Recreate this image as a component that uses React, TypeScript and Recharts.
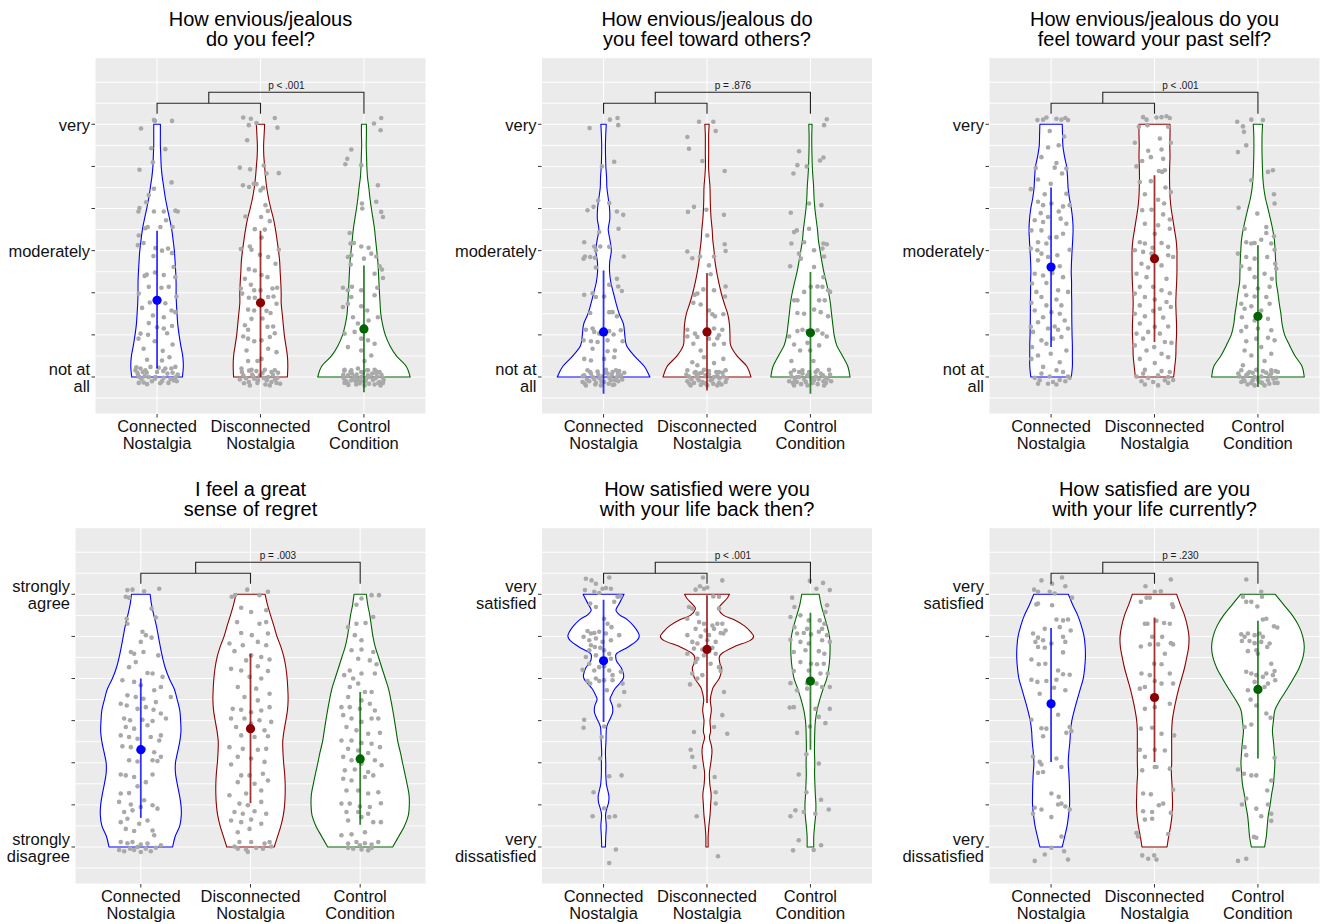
import React from 'react';
import { ComposedChart, Scatter, XAxis, YAxis, CartesianGrid } from 'recharts';

type Pt = [number, number];

const FONT = '"Liberation Sans", Arial, Helvetica, sans-serif';
const GROUP_COLORS = ['#0000FF', '#8B0000', '#006400'];
const POINT_COLOR = '#A9A9A9';

// ---------- categories / ticks ----------
const categoryPositions = [1, 2, 3];
const categoryLabels = [['Connected', 'Nostalgia'], ['Disconnected', 'Nostalgia'], ['Control', 'Condition']];
const gridValues = [0.5, 1, 1.5, 2, 2.5, 3, 3.5, 4, 4.5, 5, 5.5, 6, 6.5, 7, 7.5, 8];
const scaleTicks = [1, 2, 3, 4, 5, 6, 7];
const violinLevels = [7, 6.75, 6.5, 6.25, 6, 5.75, 5.5, 5.25, 5, 4.75, 4.5, 4.25, 4, 3.75, 3.5, 3.25, 3, 2.75, 2.5, 2.25, 2, 1.75, 1.5, 1.25, 1];

const envyLabelValues = [1, 4, 7];
const envyLabelText = [['not at', 'all'], ['moderately'], ['very']];
const agreeLabelValues = [1, 7];
const agreeLabelText = [['strongly', 'disagree'], ['strongly', 'agree']];
const satisfiedLabelValues = [1, 7];
const satisfiedLabelText = [['very', 'dissatisfied'], ['very', 'satisfied']];

const panelTitles = [
  ['How envious/jealous', 'do you feel?'],
  ['How envious/jealous do', 'you feel toward others?'],
  ['How envious/jealous do you', 'feel toward your past self?'],
  ['I feel a great', 'sense of regret'],
  ['How satisfied were you', 'with your life back then?'],
  ['How satisfied are you', 'with your life currently?'],
];
const pLabels = ['p < .001', 'p = .876', 'p < .001', 'p = .003', 'p < .001', 'p = .230'];

// bracket levels (data units)
const bracketEnd = 7.25;
const bracketLower = 7.5;
const bracketUpper = 7.76;

// ---------- means and mean ± SD ----------
const p1Means = [2.82, 2.76, 2.14];
const p1Low = [1.2, 1.0, 0.64];
const p1High = [4.47, 4.47, 3.65];
const p2Means = [2.07, 2.07, 2.05];
const p2Low = [0.6, 0.68, 0.6];
const p2High = [3.53, 3.47, 3.49];
const p3Means = [3.61, 3.81, 2.44];
const p3Low = [1.71, 1.83, 0.76];
const p3High = [5.5, 5.79, 4.13];
const p4Means = [3.31, 3.81, 3.09];
const p4Low = [1.69, 2.04, 1.53];
const p4High = [5.0, 5.59, 4.68];
const p5Means = [5.42, 5.69, 4.94];
const p5Low = [3.97, 4.42, 3.31];
const p5High = [6.87, 6.98, 6.56];
const p6Means = [4.4, 4.55, 4.74];
const p6Low = [3.02, 3.02, 3.1];
const p6High = [6.2, 6.45, 6.37];

// ---------- violin half-widths (x units) at violinLevels ----------
const v1Connected = [0.032,0.032,0.032,0.036,0.04,0.05,0.065,0.08,0.1,0.122,0.142,0.155,0.167,0.174,0.18,0.184,0.184,0.187,0.193,0.2,0.213,0.229,0.248,0.254,0.245];
const v1Disconnected = [0.04,0.035,0.03,0.032,0.04,0.048,0.06,0.077,0.1,0.126,0.145,0.16,0.174,0.185,0.19,0.196,0.2,0.2,0.21,0.22,0.23,0.245,0.26,0.264,0.26];
const v1Control = [0.024,0.024,0.022,0.025,0.028,0.034,0.047,0.058,0.072,0.088,0.103,0.113,0.124,0.134,0.14,0.145,0.15,0.156,0.163,0.18,0.206,0.25,0.314,0.41,0.447];
const v2Connected = [0.026,0.021,0.018,0.019,0.022,0.029,0.032,0.045,0.058,0.06,0.045,0.062,0.075,0.06,0.058,0.07,0.095,0.121,0.151,0.193,0.205,0.222,0.298,0.395,0.448];
const v2Disconnected = [0.021,0.016,0.016,0.016,0.015,0.021,0.029,0.031,0.034,0.04,0.05,0.056,0.068,0.077,0.093,0.113,0.137,0.166,0.2,0.217,0.222,0.229,0.29,0.386,0.425];
const v2Control = [0.016,0.013,0.013,0.015,0.018,0.024,0.031,0.035,0.043,0.055,0.068,0.077,0.093,0.11,0.129,0.153,0.176,0.193,0.204,0.216,0.229,0.254,0.31,0.362,0.383];
const v3Connected = [0.108,0.111,0.114,0.129,0.15,0.159,0.164,0.177,0.196,0.208,0.213,0.209,0.203,0.198,0.195,0.198,0.198,0.2,0.2,0.201,0.203,0.206,0.206,0.206,0.196];
const v3Disconnected = [0.15,0.15,0.148,0.15,0.147,0.145,0.147,0.151,0.161,0.177,0.193,0.209,0.217,0.217,0.217,0.214,0.209,0.206,0.209,0.213,0.213,0.208,0.206,0.196,0.185];
const v3Control = [0.045,0.04,0.039,0.04,0.043,0.047,0.056,0.072,0.097,0.121,0.143,0.159,0.166,0.171,0.174,0.177,0.193,0.206,0.222,0.234,0.258,0.306,0.359,0.427,0.448];
const v4Connected = [0.085,0.098,0.119,0.142,0.16,0.178,0.198,0.223,0.259,0.305,0.332,0.355,0.363,0.366,0.355,0.335,0.316,0.316,0.332,0.351,0.366,0.369,0.355,0.313,0.29];
const v4Disconnected = [0.133,0.155,0.183,0.213,0.241,0.277,0.305,0.323,0.334,0.34,0.343,0.337,0.322,0.305,0.294,0.296,0.302,0.311,0.316,0.316,0.311,0.299,0.277,0.247,0.216];
const v4Control = [0.056,0.069,0.088,0.102,0.116,0.137,0.168,0.198,0.229,0.259,0.279,0.297,0.313,0.328,0.343,0.366,0.386,0.407,0.427,0.445,0.448,0.439,0.404,0.351,0.296];
const v5Connected: Pt[] = [[7,0.198],[6.9,0.177],[6.75,0.145],[6.62,0.12],[6.5,0.161],[6.4,0.229],[6.25,0.29],[6.1,0.333],[6,0.345],[5.9,0.322],[5.75,0.237],[5.6,0.129],[5.5,0.118],[5.4,0.129],[5.25,0.172],[5.1,0.193],[5,0.19],[4.9,0.161],[4.75,0.108],[4.6,0.076],[4.5,0.063],[4.35,0.085],[4.2,0.088],[4.05,0.065],[3.85,0.03],[3.5,0.023],[3.25,0.018],[3,0.021],[2.75,0.021],[2.5,0.027],[2.35,0.04],[2.2,0.052],[2.05,0.048],[1.9,0.03],[1.75,0.019],[1.5,0.026],[1.25,0.021],[1,0.018]];
const v5Disconnected: Pt[] = [[7,0.217],[6.9,0.193],[6.75,0.135],[6.65,0.113],[6.5,0.161],[6.4,0.258],[6.25,0.362],[6.1,0.424],[6,0.451],[5.9,0.415],[5.75,0.258],[5.6,0.145],[5.5,0.118],[5.35,0.126],[5.25,0.142],[5.1,0.132],[5,0.118],[4.85,0.076],[4.75,0.053],[4.5,0.032],[4.25,0.042],[4,0.029],[3.75,0.035],[3.6,0.023],[3.4,0.043],[3.25,0.048],[3,0.037],[2.75,0.023],[2.5,0.027],[2.25,0.04],[2,0.035],[1.75,0.029],[1.5,0.018],[1.25,0.011],[1,0.011]];
const v5Control = [0.084,0.103,0.132,0.161,0.184,0.19,0.187,0.177,0.158,0.122,0.09,0.064,0.048,0.042,0.04,0.039,0.042,0.04,0.043,0.047,0.053,0.05,0.04,0.032,0.032];
const v6Connected = [0.167,0.209,0.258,0.293,0.319,0.33,0.332,0.325,0.311,0.282,0.253,0.225,0.201,0.188,0.182,0.172,0.166,0.172,0.177,0.179,0.179,0.169,0.155,0.132,0.108];
const v6Disconnected = [0.214,0.25,0.29,0.317,0.333,0.33,0.312,0.29,0.262,0.233,0.209,0.188,0.172,0.166,0.166,0.166,0.166,0.163,0.169,0.172,0.174,0.169,0.156,0.137,0.121];
const v6Control = [0.167,0.25,0.333,0.395,0.433,0.448,0.435,0.398,0.343,0.282,0.217,0.164,0.15,0.14,0.15,0.158,0.164,0.158,0.15,0.132,0.118,0.1,0.09,0.081,0.064];

// ---------- jittered responses [x offset from category, value] ----------
const p1Connected: Pt[] = [[-0.03,7.1],[-0.02,7.08],[0.145,7.08],[-0.155,6.9],[-0.055,6.43],[0.08,6.41],[-0.17,5.92],[-0.04,6.1],[0.14,5.62],[-0.03,5.47],[-0.08,5.32],[-0.105,5.15],[-0.17,5.01],[-0.18,4.93],[-0.03,4.93],[0.065,4.93],[0.177,4.95],[0.2,4.93],[0.087,4.72],[-0.09,4.56],[-0.113,4.53],[0.032,4.56],[0.15,4.56],[-0.177,4.36],[-0.13,4.18],[-0.185,4.13],[-0.016,4.06],[0.048,4.0],[0.106,4.05],[-0.035,3.87],[0.145,3.94],[0.16,3.61],[-0.1,3.43],[-0.12,3.4],[-0.02,3.48],[0.065,3.42],[0.177,3.37],[-0.08,3.14],[0.042,3.12],[0.113,3.14],[-0.177,2.98],[0.187,2.91],[-0.07,2.77],[0.08,2.75],[-0.145,2.64],[0.14,2.58],[0.177,2.54],[-0.04,2.46],[0.065,2.42],[-0.08,2.28],[0.145,2.21],[0,2.18],[-0.16,2.03],[-0.087,2.0],[0.065,2.15],[0.097,2.04],[-0.18,1.91],[-0.023,1.85],[0.15,1.77],[-0.13,1.67],[0.055,1.62],[0.12,1.47],[-0.097,1.41],[0.048,1.39],[-0.2,1.23],[-0.16,1.2],[-0.113,1.16],[-0.064,1.24],[0.016,1.22],[0.08,1.2],[0.138,1.2],[0.177,1.24],[-0.183,1.05],[-0.12,1.02],[-0.08,1.0],[-0.016,1.0],[0.064,0.98],[0.13,0.95],[0.177,0.99],[-0.177,0.86],[-0.097,0.83],[0.048,0.9],[0.16,0.92],[-0.21,1.16],[-0.138,1.12],[-0.19,1.1],[-0.15,0.95],[-0.1,1.1],[-0.05,0.9],[0,1.12],[0.03,0.85],[0.1,1.08],[0.15,1.1],[0.19,0.9],[-0.17,1.0],[0.11,0.86],[-0.02,0.96],[0.06,1.14],[-0.13,0.87],[0.2,1.06]];
const p1Disconnected: Pt[] = [[-0.167,7.16],[-0.093,7.13],[0.138,7.15],[-0.113,6.98],[-0.039,7.03],[0.164,6.92],[-0.129,6.62],[-0.2,5.97],[-0.1,5.93],[0.032,6.02],[0.058,5.83],[0.177,5.84],[-0.17,5.55],[-0.11,5.51],[-0.064,5.59],[-0.039,5.58],[0,5.43],[0.026,5.49],[0.048,5.08],[0.071,4.94],[-0.145,4.81],[0.006,4.8],[0.09,4.7],[-0.055,4.51],[0.042,4.5],[0.01,4.31],[-0.19,4.04],[-0.103,4.1],[-0.087,4.02],[0.177,4.02],[-0.006,3.9],[0.074,3.85],[0.145,3.69],[-0.113,3.56],[-0.055,3.53],[0.01,3.42],[0.068,3.37],[-0.151,3.33],[-0.19,3.1],[-0.093,3.19],[-0.061,3.06],[0,3.06],[0.116,3.1],[0.161,3.12],[-0.177,2.98],[-0.113,2.88],[-0.055,2.88],[0.074,2.9],[0.126,2.91],[0.155,2.74],[-0.12,2.6],[-0.061,2.58],[0.058,2.57],[0.097,2.52],[-0.087,2.38],[0.019,2.39],[-0.151,2.23],[-0.12,2.12],[0.068,2.19],[0.122,2.2],[0.138,2.04],[-0.167,1.96],[-0.12,1.91],[-0.061,1.85],[0.01,1.87],[0.09,1.95],[-0.135,1.63],[0.074,1.67],[0.155,1.59],[0.01,1.43],[-0.12,1.38],[-0.029,1.38],[-0.184,1.2],[-0.087,1.17],[-0.039,1.14],[0.042,1.17],[0.106,1.12],[0.138,1.16],[-0.167,1.04],[-0.071,1.01],[-0.006,1.04],[0.074,1.0],[0.164,0.98],[-0.2,0.94],[-0.113,0.88],[-0.023,0.92],[0.048,0.82],[0.155,0.86],[-0.103,0.8],[0.106,0.88],[-0.18,1.12],[-0.14,0.97],[-0.08,1.06],[-0.03,0.86],[0.02,1.1],[0.06,0.92],[0.12,1.05],[0.17,1.1],[0.19,0.84],[-0.06,0.96],[0.09,0.8],[-0.16,0.85],[0.03,0.98],[0.14,0.94],[-0.11,1.15]];
const p1Control: Pt[] = [[0.167,7.15],[0.097,7.02],[0.161,6.86],[-0.122,6.4],[-0.161,6.18],[-0.18,6.05],[-0.026,6.03],[0.135,5.55],[0.119,5.16],[-0.019,5.12],[0.167,4.92],[-0.016,5.0],[0.184,4.8],[-0.138,4.42],[-0.129,4.17],[-0.097,4.18],[-0.026,4.1],[0.045,4.07],[0.119,3.86],[-0.155,3.85],[-0.122,3.89],[0.071,3.93],[0,3.81],[0.151,3.63],[0.174,3.55],[-0.129,3.67],[0.103,3.45],[0.184,3.35],[-0.116,3.14],[-0.203,3.12],[-0.155,3.06],[-0.026,3.06],[0.129,3.12],[-0.122,2.9],[0.103,2.94],[-0.155,2.74],[-0.203,2.66],[-0.026,2.68],[0.032,2.58],[0.135,2.42],[-0.106,2.42],[-0.058,2.27],[0.045,2.34],[-0.187,2.03],[-0.09,2.07],[-0.026,1.91],[0.039,1.87],[0.103,1.79],[-0.026,1.63],[-0.155,1.71],[0.071,1.51],[0.006,1.38],[-0.187,1.17],[-0.122,1.16],[-0.058,1.2],[-0.026,1.12],[0.039,1.16],[0.103,1.17],[0.151,1.12],[-0.155,1.04],[-0.09,1.01],[-0.026,1.0],[0.039,1.04],[0.129,1.01],[0.184,0.98],[-0.193,0.96],[-0.122,0.92],[-0.058,0.93],[0.013,0.9],[0.087,0.93],[0.151,0.88],[-0.155,0.84],[-0.074,0.82],[0.006,0.8],[0.103,0.82],[0.184,0.86],[-0.187,0.86],[-0.026,0.9],[0.055,1.0],[-0.116,1.08],[0.119,1.08],[-0.2,1.05],[-0.17,0.9],[-0.13,1.12],[-0.1,0.97],[-0.07,1.06],[-0.04,0.85],[-0.01,1.1],[0.02,0.95],[0.05,0.84],[0.08,1.08],[0.11,0.97],[0.14,0.86],[0.17,1.05],[0.19,0.93],[-0.15,0.81],[-0.08,0.9],[0.03,1.16],[0.12,1.13],[-0.19,1.15],[0.16,0.8]];

const p2Connected: Pt[] = [[0.061,7.11],[0.135,7.15],[-0.135,6.91],[0.142,6.98],[-0.016,6.0],[0.103,6.11],[-0.052,5.19],[0.055,5.13],[-0.155,4.96],[-0.097,5.04],[0.129,4.93],[0.19,4.85],[0.145,4.52],[-0.042,4.44],[-0.187,4.2],[-0.09,4.1],[-0.032,4.1],[0.055,4.09],[-0.074,4.01],[-0.18,3.86],[-0.129,3.85],[-0.084,3.83],[-0.193,3.81],[0.196,3.86],[-0.074,3.6],[0.129,3.33],[0.055,3.19],[0.142,3.15],[0.177,3.04],[-0.187,2.95],[-0.106,2.99],[-0.074,2.9],[0.006,2.91],[-0.129,2.52],[0.087,2.54],[0.055,2.54],[0.129,2.44],[-0.171,2.12],[-0.09,2.07],[-0.106,2.15],[-0.042,2.03],[0.055,2.09],[0.097,2.01],[0.167,2.11],[-0.193,1.87],[-0.122,1.85],[-0.058,1.83],[0.039,1.87],[0.184,1.85],[-0.106,1.67],[0.039,1.61],[0.11,1.63],[-0.187,1.43],[-0.122,1.39],[0.006,1.43],[0.103,1.47],[-0.155,1.16],[-0.058,1.13],[0.023,1.17],[0.087,1.12],[0.151,1.14],[-0.187,1.04],[-0.106,1.0],[-0.01,1.01],[0.055,0.98],[0.129,1.0],[0.167,1.04],[-0.203,0.88],[-0.138,0.9],[-0.074,0.86],[0.006,0.88],[0.071,0.92],[0.142,0.9],[-0.171,0.8],[-0.026,0.8],[0.103,0.82],[0.039,1.08],[-0.122,1.08],[-0.2,1.02],[-0.16,0.94],[-0.13,1.12],[-0.09,0.95],[-0.05,1.06],[-0.02,0.9],[0.02,1.1],[0.05,0.84],[0.08,1.05],[0.11,0.93],[0.14,1.08],[0.18,0.94],[-0.18,0.84],[-0.08,0.82],[0.09,0.81],[0.2,1.1],[-0.04,0.97],[0.12,1.16]];
const p2Disconnected: Pt[] = [[-0.077,7.06],[0.061,7.06],[0.084,6.84],[-0.19,6.7],[-0.174,6.42],[-0.045,6.13],[0.171,5.89],[-0.126,5.04],[-0.184,4.92],[-0.006,4.97],[0.164,4.85],[0.003,4.36],[0.171,4.15],[0.18,3.99],[-0.19,3.98],[-0.142,3.82],[-0.068,3.86],[0.068,3.86],[0.019,3.65],[0.035,3.44],[0.18,3.15],[-0.119,2.95],[-0.093,2.98],[-0.035,3.08],[0.068,3.06],[0.174,2.91],[-0.132,2.76],[-0.061,2.72],[0.019,2.58],[0.052,2.49],[0.077,2.44],[0.158,2.49],[-0.19,2.12],[-0.116,2.03],[-0.003,2.11],[0.068,2.15],[0.116,1.99],[0.148,2.12],[-0.19,1.96],[-0.093,1.95],[0.019,1.91],[0.1,1.92],[-0.132,1.79],[-0.061,1.63],[0.068,1.77],[0.164,1.79],[-0.029,1.47],[0.158,1.43],[-0.142,1.35],[-0.093,1.28],[0.068,1.33],[-0.19,1.16],[-0.11,1.12],[-0.029,1.17],[0.019,1.14],[0.116,1.12],[0.18,1.16],[-0.174,1.01],[-0.093,0.98],[-0.013,1.04],[0.068,1.0],[0.158,1.01],[-0.19,0.9],[-0.126,0.86],[-0.045,0.88],[0.035,0.92],[0.116,0.86],[0.18,0.88],[-0.158,0.8],[0.003,0.8],[0.1,0.8],[-0.077,1.08],[-0.2,1.06],[-0.15,0.95],[-0.12,1.1],[-0.08,0.92],[-0.05,1.1],[-0.02,0.85],[0.02,1.06],[0.05,0.94],[0.09,1.12],[0.12,0.97],[0.15,1.1],[0.19,0.96],[-0.17,0.84],[-0.06,0.81],[0.06,0.84],[0.14,0.82],[0.1,1.04],[-0.1,1.02]];
const p2Control: Pt[] = [[0.158,7.12],[0.132,6.98],[-0.11,6.36],[-0.126,6.03],[-0.164,5.83],[-0.035,6.0],[0.126,6.21],[0.093,6.14],[0.106,5.08],[-0.013,5.12],[-0.19,4.9],[-0.158,4.44],[-0.132,4.48],[-0.184,4.17],[-0.061,4.2],[-0.013,4.52],[0.126,4.17],[0.158,4.15],[-0.11,3.93],[-0.093,3.81],[0.035,4.01],[0.116,4.05],[0.132,3.86],[-0.196,3.63],[0.035,3.61],[0.126,3.37],[0.068,3.15],[0.116,3.14],[0.171,3.06],[0.19,3.02],[-0.158,2.82],[-0.126,2.82],[-0.061,3.02],[0.003,3.14],[0.084,2.82],[0.138,2.82],[-0.126,2.52],[-0.061,2.5],[0.035,2.6],[0.1,2.54],[0.171,2.44],[-0.206,1.96],[-0.126,2.09],[-0.077,2.12],[-0.029,2.09],[0.068,2.11],[0.116,2.03],[0.158,1.96],[-0.158,1.77],[-0.029,1.81],[0.084,1.75],[-0.1,1.63],[-0.003,1.63],[-0.184,1.38],[0.029,1.38],[-0.158,1.16],[-0.077,1.16],[-0.013,1.12],[0.068,1.16],[0.18,1.17],[-0.184,1.01],[-0.11,1.0],[-0.029,1.04],[0.052,1.01],[0.148,0.98],[-0.206,0.9],[-0.132,0.88],[-0.045,0.88],[0.035,0.92],[0.126,0.9],[0.164,0.96],[-0.158,0.8],[-0.029,0.8],[0.132,0.8],[-0.077,1.08],[0.1,1.08],[-0.19,1.1],[-0.15,0.95],[-0.11,1.12],[-0.06,0.94],[-0.01,1.06],[0.02,0.86],[0.05,1.12],[0.08,0.95],[0.12,1.04],[0.15,0.86],[0.19,1.06],[-0.17,0.86],[-0.09,0.83],[0.07,0.83],[0.2,0.9],[0.01,0.96],[-0.13,1.0]];

const p3Connected: Pt[] = [[-0.132,7.1],[-0.077,7.11],[-0.045,7.16],[0.052,7.13],[0.1,7.11],[0.138,7.15],[0.164,7.1],[-0.013,6.84],[0.126,6.71],[0.074,6.5],[-0.029,6.45],[-0.093,6.22],[0.052,6.08],[-0.148,5.96],[0.148,5.95],[0.035,5.97],[0.106,5.83],[-0.126,5.69],[-0.003,5.59],[-0.196,5.46],[-0.061,5.34],[0.148,5.35],[-0.126,5.16],[-0.077,5.08],[0.003,5.12],[0.116,5.05],[0.18,5.08],[-0.1,4.89],[-0.029,4.8],[0.074,4.93],[-0.158,4.72],[-0.077,4.68],[0.093,4.76],[0.148,4.64],[-0.19,4.48],[-0.093,4.48],[-0.013,4.31],[0.052,4.32],[0.116,4.4],[-0.126,4.2],[-0.045,4.17],[-0.132,4.01],[-0.196,4.05],[-0.093,3.93],[0.061,3.89],[0.18,4.02],[-0.029,3.85],[-0.126,3.77],[0.084,3.63],[-0.158,3.45],[-0.077,3.41],[0.013,3.47],[0.116,3.37],[-0.184,3.22],[-0.045,3.23],[0.068,3.06],[0.164,3.02],[-0.142,3.02],[-0.093,2.9],[0.052,2.84],[-0.19,2.76],[-0.045,2.7],[0.1,2.7],[-0.158,2.58],[0.003,2.54],[0.084,2.5],[-0.077,2.42],[0.132,2.34],[-0.126,2.3],[0.035,2.2],[-0.196,2.19],[-0.029,2.15],[0.068,2.12],[0.164,2.15],[-0.174,2.07],[-0.093,1.87],[0.019,1.91],[0.1,1.95],[-0.184,1.71],[-0.045,1.79],[0.148,1.63],[-0.126,1.51],[-0.003,1.55],[0.084,1.35],[-0.19,1.43],[-0.077,1.24],[0.052,1.16],[0.116,1.12],[-0.093,1.08],[-0.158,0.98],[-0.013,1.01],[0.164,1.01],[-0.11,0.92],[0.019,0.88],[0.084,0.93],[0.138,0.9],[-0.029,0.84],[0.052,0.82],[-0.126,0.84],[0.18,0.98]];
const p3Disconnected: Pt[] = [[-0.11,7.17],[-0.077,7.11],[0.019,7.16],[0.068,7.17],[0.116,7.19],[0.148,7.15],[-0.151,6.94],[-0.068,6.98],[0.132,6.94],[0.052,6.66],[-0.19,6.56],[0.158,6.56],[-0.061,6.37],[0.068,6.4],[-0.035,6.22],[0.084,6.18],[-0.119,6.13],[-0.174,6.0],[0.042,5.89],[0.1,5.91],[-0.142,5.63],[0.074,5.87],[-0.035,5.65],[0.106,5.5],[-0.093,5.34],[0.158,5.39],[0.035,5.21],[0.093,5.12],[-0.119,4.96],[-0.029,4.97],[0.084,4.86],[0.148,4.74],[-0.093,4.64],[0.035,4.6],[0.148,4.52],[0.003,4.4],[-0.142,4.2],[-0.093,4.17],[-0.019,4.07],[0.068,4.18],[0.132,4.09],[-0.19,4.01],[-0.11,3.97],[-0.029,3.93],[0.132,3.89],[0.18,3.85],[-0.126,3.69],[-0.061,3.6],[0.068,3.65],[-0.174,3.45],[-0.077,3.37],[0.116,3.33],[-0.142,3.14],[-0.013,3.14],[0.068,3.06],[-0.19,2.98],[0.148,2.99],[-0.093,2.9],[0.003,2.84],[0.116,2.78],[-0.142,2.7],[0.052,2.62],[0.158,2.66],[-0.19,2.5],[-0.093,2.44],[-0.013,2.57],[0.084,2.41],[-0.142,2.27],[0.003,2.19],[0.132,2.2],[-0.174,2.03],[-0.061,2.07],[0.052,2.03],[-0.11,1.91],[0.1,1.83],[0.164,1.81],[-0.19,1.75],[-0.003,1.71],[-0.077,1.63],[0.068,1.55],[-0.142,1.43],[0.132,1.47],[0.003,1.33],[-0.093,1.17],[0.068,1.14],[0.148,1.12],[-0.174,1.01],[-0.061,0.98],[0.035,1.04],[0.132,1.0],[-0.126,0.9],[-0.013,0.88],[0.1,0.92],[0.18,0.93],[-0.093,0.82],[0.035,0.8],[0.132,0.86],[-0.11,1.08]];
const p3Control: Pt[] = [[-0.064,7.11],[0.048,7.1],[-0.2,7.06],[-0.145,6.95],[-0.135,6.82],[-0.193,6.34],[-0.113,6.5],[0.145,5.91],[0.097,5.87],[-0.064,5.67],[0.155,5.34],[0.161,5.12],[-0.187,5.02],[-0.006,4.88],[0.081,4.56],[-0.129,4.52],[0.081,4.42],[0.155,4.34],[-0.113,4.2],[-0.064,4.17],[-0.032,4.18],[0.032,4.26],[0.129,4.17],[0.161,4.02],[-0.193,3.93],[-0.113,3.85],[-0.032,3.81],[0.09,3.85],[0.167,3.69],[-0.161,3.63],[-0.081,3.57],[0.177,3.57],[0.064,3.45],[-0.032,3.37],[0.135,3.33],[0.113,3.14],[-0.129,3.14],[0,3.1],[-0.113,2.94],[-0.032,2.91],[-0.161,2.74],[-0.064,2.68],[0.081,2.9],[-0.129,2.62],[0.032,2.58],[0.113,2.74],[-0.155,2.42],[0.097,2.38],[-0.032,2.34],[-0.113,2.19],[0,2.15],[0.129,2.11],[-0.161,2.09],[0.097,1.93],[-0.113,1.85],[-0.016,1.91],[0.161,1.87],[-0.129,1.63],[0.032,1.71],[-0.064,1.51],[0.129,1.55],[0.064,1.38],[-0.145,1.28],[-0.161,1.16],[-0.081,1.12],[-0.016,1.17],[0.048,1.14],[0.129,1.16],[0.193,1.12],[-0.177,1.01],[-0.113,1.04],[-0.032,1.0],[0.032,1.01],[0.113,1.04],[0.177,0.98],[-0.129,0.9],[-0.064,0.86],[0.016,0.88],[0.097,0.92],[0.161,0.86],[-0.032,0.8],[0.064,0.8],[-0.161,0.88],[0.129,1.08],[-0.097,1.08],[-0.19,1.08],[-0.14,0.95],[-0.1,0.82],[-0.05,1.1],[0.0,0.94],[0.04,0.86],[0.08,1.1],[0.11,0.84],[0.15,0.96],[0.19,0.86],[-0.05,0.92],[0.17,1.14]];

const p4Connected: Pt[] = [[-0.122,7.1],[-0.076,7.11],[0.03,7.07],[0.168,7.13],[-0.137,6.94],[-0.107,6.92],[0.098,6.66],[-0.128,6.42],[0.137,6.45],[-0.122,6.3],[0.015,6.11],[0.046,6.03],[0.098,5.97],[0,5.87],[-0.091,5.63],[-0.061,5.59],[0.024,5.63],[0.159,5.55],[-0.046,5.39],[-0.107,5.27],[0.061,5.13],[0.107,5.12],[-0.168,4.96],[-0.061,4.92],[0,4.84],[0.198,5.04],[0.183,4.8],[0.122,4.72],[-0.122,4.6],[-0.046,4.56],[0.024,4.52],[0.137,4.44],[0.274,4.56],[-0.183,4.4],[-0.128,4.36],[-0.03,4.28],[0.046,4.32],[0.116,4.26],[0.183,4.17],[-0.152,4.05],[-0.098,4.01],[0.015,4.02],[0.107,3.99],[0.229,4.05],[-0.137,3.85],[-0.061,3.81],[0.061,3.89],[0.183,3.65],[-0.183,3.65],[-0.107,3.61],[-0.03,3.57],[0.091,3.61],[0.168,3.53],[-0.168,3.39],[-0.091,3.37],[0.03,3.33],[0.122,3.25],[0.183,3.14],[-0.107,3.06],[-0.03,3.03],[0.107,3.06],[0.152,3.04],[-0.183,2.72],[-0.137,2.7],[-0.061,2.66],[0.107,2.72],[0.046,2.54],[-0.03,2.44],[-0.183,2.27],[-0.107,2.28],[0.03,2.11],[-0.198,2.07],[-0.091,2.01],[0,1.95],[0.107,1.99],[-0.152,1.83],[-0.076,1.87],[0.152,1.91],[-0.122,1.67],[0.061,1.63],[-0.183,1.59],[-0.015,1.55],[-0.137,1.43],[0.107,1.39],[-0.061,1.38],[0.122,1.28],[-0.183,1.12],[-0.122,1.09],[-0.076,1.12],[0,1.06],[0.061,1.08],[0.183,1.04],[-0.198,0.93],[-0.098,0.96],[-0.03,1.0],[0.046,0.96],[0.137,0.98],[-0.152,0.9],[0,0.88],[0.091,0.9],[-0.061,0.93]];
const p4Disconnected: Pt[] = [[-0.03,7.11],[0.082,6.98],[0.159,7.06],[-0.171,6.94],[-0.14,6.98],[-0.085,6.68],[0.006,6.58],[0.143,6.62],[-0.122,6.34],[0.082,6.3],[0.143,6.34],[-0.085,6.08],[0.012,6.03],[0.159,6.07],[-0.192,5.83],[-0.07,5.79],[0.067,5.87],[0.143,5.79],[-0.146,5.65],[0.006,5.55],[0.098,5.51],[-0.04,5.43],[0.174,5.45],[-0.177,5.23],[-0.085,5.19],[0.067,5.29],[0.159,5.18],[-0.009,5.04],[0.098,5.0],[-0.116,4.8],[0.052,4.76],[0.174,4.64],[-0.055,4.56],[0.067,4.48],[-0.162,4.28],[-0.085,4.26],[0.006,4.2],[0.098,4.24],[0.174,4.32],[-0.177,4.05],[-0.055,4.05],[0.082,4.01],[0.189,3.97],[-0.131,3.85],[0.006,3.93],[0.128,3.77],[-0.085,3.65],[0.037,3.61],[0.159,3.63],[-0.192,3.37],[-0.07,3.33],[0.067,3.31],[0.143,3.33],[-0.116,3.14],[0.006,3.1],[0.128,3.02],[-0.177,2.96],[-0.085,2.7],[-0.009,2.7],[0.113,2.74],[-0.116,2.54],[0.037,2.5],[0.159,2.58],[-0.192,2.23],[-0.04,2.27],[0.098,2.34],[-0.101,2.03],[-0.024,1.99],[0.098,2.07],[-0.146,1.83],[-0.07,1.79],[0.037,1.85],[0.143,1.79],[-0.177,1.63],[-0.085,1.59],[0.006,1.65],[0.098,1.55],[-0.116,1.35],[-0.009,1.43],[-0.101,1.12],[0.006,1.12],[0.128,1.08],[0.174,1.12],[-0.116,0.96],[-0.04,0.94],[0.052,0.98],[0.113,0.96],[-0.146,1.01],[-0.024,0.88],[0.189,1.01]];
const p4Control: Pt[] = [[-0.034,6.75],[0.012,6.9],[0.104,6.98],[0.171,6.98],[-0.11,6.22],[-0.034,6.3],[0.049,6.32],[0.119,6.46],[-0.049,6.03],[0.012,5.91],[-0.079,5.67],[0.012,5.69],[0.119,5.63],[-0.018,5.47],[0.088,5.43],[0.149,5.34],[-0.095,5.19],[-0.146,5.08],[-0.064,5.0],[0.012,5.12],[0.134,5.12],[-0.095,4.8],[-0.018,4.88],[0.043,4.68],[0.104,4.68],[-0.11,4.56],[0.012,4.48],[0.088,4.4],[-0.171,4.32],[-0.095,4.32],[-0.003,4.28],[0.134,4.24],[0.165,4.05],[-0.155,4.13],[-0.079,4.05],[0.012,3.97],[0.104,4.05],[-0.125,3.85],[-0.034,3.77],[0.073,3.69],[0.18,3.71],[-0.171,3.53],[-0.079,3.53],[0.012,3.47],[0.104,3.45],[-0.11,3.33],[-0.018,3.29],[0.073,3.23],[0.18,3.37],[-0.155,3.14],[-0.079,3.06],[0.012,2.98],[0.134,3.06],[0.195,2.94],[-0.14,2.82],[-0.049,2.84],[0.073,2.78],[-0.155,2.62],[-0.079,2.58],[0.043,2.66],[0.119,2.7],[-0.125,2.34],[-0.018,2.34],[0.073,2.27],[0.165,2.3],[-0.171,2.03],[-0.095,2.03],[-0.003,1.96],[0.088,1.95],[0.189,2.04],[-0.125,1.83],[-0.018,1.83],[0.073,1.79],[-0.11,1.63],[0.012,1.71],[0.119,1.59],[-0.171,1.28],[-0.079,1.3],[0.043,1.35],[0.189,1.59],[-0.11,1.08],[-0.034,1.12],[0.043,1.09],[0.104,1.06],[0.165,1.12],[-0.064,0.96],[0.012,0.94],[0.073,0.92],[-0.11,0.98],[0.104,0.98],[-0.003,1.04]];

const p5Connected: Pt[] = [[-0.171,7.37],[-0.116,7.33],[-0.074,7.25],[-0.01,7.13],[0.023,7.15],[0.071,7.13],[0.055,7.4],[-0.18,7.1],[-0.09,7.06],[-0.042,7.03],[0.135,6.94],[0.161,6.95],[-0.129,6.78],[-0.074,6.7],[0.103,6.82],[0.006,6.42],[0.039,6.3],[0.077,6.22],[-0.155,6.13],[-0.122,6.07],[-0.09,6.08],[-0.042,6.11],[0.023,6.07],[0.151,6.03],[-0.193,5.99],[-0.138,5.91],[-0.074,5.95],[-0.01,5.87],[0.071,5.91],[-0.122,5.79],[-0.084,5.75],[-0.032,5.73],[-0.138,5.67],[0.006,5.67],[0.055,5.59],[-0.171,5.51],[-0.074,5.55],[0.071,5.47],[-0.138,5.35],[-0.042,5.27],[0.006,5.29],[-0.203,5.21],[-0.09,5.19],[0.055,5.19],[0.167,5.16],[0.087,5.08],[-0.074,5.0],[-0.042,4.94],[0.006,4.96],[0.087,4.96],[0.184,4.88],[0.032,4.72],[0.2,4.68],[0.151,4.36],[-0.187,4.02],[-0.193,3.83],[0.006,3.86],[-0.019,3.61],[-0.032,3.1],[0.055,2.68],[0.174,2.7],[-0.097,2.3],[0.006,1.92],[-0.106,1.73],[0.055,1.71],[0.11,1.73],[0.119,0.94],[0.055,0.62],[-0.155,4.94],[-0.129,4.88]];
const p5Disconnected: Pt[] = [[-0.039,7.4],[0.148,7.33],[-0.11,7.11],[-0.068,7.19],[-0.029,7.13],[0.003,7.16],[0.061,6.95],[0.116,6.94],[-0.174,6.7],[-0.142,6.66],[-0.093,6.54],[0.116,6.66],[-0.19,6.42],[-0.077,6.34],[-0.029,6.3],[0.052,6.26],[0.1,6.3],[0.148,6.3],[-0.11,6.18],[-0.013,6.14],[0.068,6.18],[0.18,6.14],[-0.19,6.03],[-0.061,6.0],[0.019,6.03],[0.132,6.08],[0.158,6.07],[-0.142,5.87],[-0.093,5.83],[0.003,5.91],[0.084,5.87],[-0.126,5.71],[-0.045,5.69],[0.052,5.73],[-0.19,5.59],[-0.093,5.47],[-0.029,5.55],[0.084,5.59],[-0.11,5.39],[0.035,5.35],[0.116,5.27],[-0.142,5.12],[-0.045,5.08],[0.132,5.18],[-0.093,5.0],[-0.164,4.86],[0.164,4.68],[0.148,4.13],[-0.126,3.73],[0.068,3.85],[0.196,3.69],[-0.158,3.31],[-0.142,3.14],[-0.119,2.9],[0.074,2.66],[0.084,2.3],[0.084,2.03],[-0.1,1.73],[0.106,0.78]];
const p5Control: Pt[] = [[-0.006,7.32],[0.122,7.27],[0.058,7.13],[0.187,7.1],[-0.177,6.92],[0.161,6.74],[-0.155,6.7],[0.145,6.58],[-0.193,6.46],[-0.097,6.5],[-0.016,6.38],[0.09,6.38],[0.135,6.3],[-0.155,6.22],[-0.032,6.18],[0.113,6.18],[-0.129,6.07],[-0.064,6.08],[0.006,6.05],[0.081,6.11],[0.161,6.03],[-0.193,5.92],[-0.097,5.87],[-0.016,5.83],[0.113,5.91],[0.187,5.87],[-0.161,5.63],[-0.048,5.67],[0.081,5.65],[0.135,5.59],[-0.097,5.39],[0.006,5.35],[0.064,5.34],[0.129,5.35],[-0.161,5.18],[-0.016,5.19],[0.097,5.12],[0.167,5.12],[-0.193,4.89],[-0.032,4.89],[0.058,4.88],[0.187,4.8],[-0.129,4.72],[-0.032,4.76],[0.113,4.8],[-0.2,4.31],[-0.161,4.32],[0.048,4.28],[0.187,4.28],[0.081,4.09],[-0.006,3.86],[0.145,3.94],[-0.129,3.71],[-0.039,3.2],[0.081,2.98],[-0.113,2.72],[-0.039,2.3],[0.103,2.12],[0.177,1.89],[-0.064,1.83],[0.048,1.79],[-0.193,1.73],[-0.145,1.87],[-0.113,1.16],[-0.168,0.92],[0.032,0.93],[0.103,1.04]];

const p6Connected: Pt[] = [[-0.093,7.33],[0.01,7.25],[0.106,7.4],[0.138,7.19],[-0.164,7.11],[-0.126,7.06],[-0.013,7.06],[0.035,7.02],[0.203,6.92],[-0.126,6.78],[-0.142,6.76],[0.01,6.74],[0.052,6.4],[0.116,6.38],[0.164,6.4],[-0.174,6.07],[-0.126,5.97],[0.084,6.22],[-0.061,6.18],[0.19,6.14],[0.116,5.99],[-0.151,5.87],[-0.077,5.91],[0.003,5.83],[0.138,5.87],[-0.126,5.75],[-0.061,5.73],[0.116,5.62],[-0.19,5.45],[-0.119,5.34],[-0.055,5.35],[0.068,5.19],[0.116,5.1],[0.18,5.09],[-0.19,4.97],[-0.132,4.92],[-0.045,4.94],[0.052,4.97],[0.138,4.72],[-0.11,4.64],[0.029,4.78],[-0.19,4.02],[-0.093,3.82],[-0.045,3.81],[0.18,3.85],[0.148,3.71],[0.196,3.75],[-0.077,3.63],[0.068,4.14],[-0.174,3.15],[-0.11,3.02],[-0.093,2.96],[0.052,3.1],[-0.126,2.76],[-0.077,2.78],[0.1,2.9],[0.003,2.27],[0.074,2.19],[0.1,2.03],[-0.158,1.93],[-0.174,1.79],[-0.093,1.89],[0.068,2.01],[0.138,1.96],[0.18,1.89],[0.003,1.71],[0.1,1.25],[-0.061,0.82],[0.164,0.7],[0.126,0.9],[-0.158,0.67],[0.003,0.98]];
const p6Disconnected: Pt[] = [[0.158,7.35],[-0.087,7.19],[0.003,7.06],[0.061,7.07],[-0.132,6.82],[-0.077,6.92],[-0.045,6.92],[0.171,6.76],[0.18,6.7],[-0.093,6.3],[-0.068,6.3],[0.019,6.37],[0.093,6.32],[0.148,6.3],[-0.023,5.99],[0.074,5.99],[-0.132,5.76],[-0.045,5.81],[0.035,5.81],[0.158,5.84],[0.18,5.81],[0.1,5.59],[-0.003,5.35],[0.068,5.34],[-0.126,5.12],[-0.045,5.08],[0.148,5.12],[-0.093,4.8],[0.003,4.94],[0.068,4.88],[0.18,4.88],[-0.142,4.76],[0.148,4.4],[-0.093,4.28],[0.003,4.32],[-0.132,3.81],[-0.023,3.83],[0.068,3.69],[0.19,3.65],[-0.142,3.31],[-0.093,3.14],[0.003,3.31],[0.1,3.29],[-0.119,2.82],[0.003,2.9],[0.019,2.9],[0.148,2.86],[0.18,2.36],[-0.11,2.27],[-0.035,2.25],[0.042,1.99],[0.084,2.03],[0.158,1.81],[-0.11,1.85],[-0.023,1.83],[-0.093,1.65],[-0.023,1.67],[-0.174,1.33],[-0.158,1.25],[-0.119,0.8],[-0.061,0.72],[-0.003,0.8],[0.019,0.7],[0.132,1.31]];
const p6Control: Pt[] = [[-0.113,7.35],[-0.145,6.94],[0.032,7.06],[-0.113,6.82],[-0.064,6.82],[-0.006,6.71],[0.039,6.94],[0.048,6.4],[0.081,6.42],[0.155,6.24],[0.187,6.21],[-0.161,6.05],[-0.129,5.99],[-0.097,6.07],[-0.032,6.03],[0.016,6.07],[0.048,5.99],[-0.155,5.89],[-0.081,5.89],[-0.032,5.84],[0.032,5.87],[0.113,5.83],[-0.097,5.65],[-0.016,5.67],[0.09,5.75],[0,5.59],[-0.113,5.16],[-0.064,5.12],[-0.016,5.08],[0.129,5.35],[0.161,5.18],[0.081,5.12],[0.145,5.08],[0.048,5.04],[-0.032,4.92],[0.097,4.88],[0.167,4.96],[-0.097,4.72],[0.064,4.8],[-0.071,4.5],[-0.016,4.36],[0.081,4.17],[0.122,4.07],[-0.129,3.85],[-0.064,3.91],[-0.129,3.37],[-0.113,3.18],[0.161,3.12],[-0.193,2.84],[-0.135,2.74],[-0.064,2.7],[-0.016,2.7],[0.129,2.58],[0.09,2.34],[-0.113,2.15],[0.097,2.01],[-0.155,2.01],[-0.016,1.91],[0.032,1.73],[0.129,1.79],[0.129,1.62],[-0.039,1.24],[-0.016,1.22],[-0.193,0.67],[-0.113,0.72]];

// ---------- layout (pixels) ----------
const chartLefts = [0, 446, 893, 0, 446, 893];
const chartTops = [0, 0, 0, 470, 470, 470];
const plotLefts = [95, 541.5, 989, 75, 541.5, 989];
const plotRights = [426, 872.5, 1320, 426, 872.5, 1320];
const PLOT_TOP = 57.75;
const PLOT_H = 356.3;
const XAXIS_H = 40;
const CHART_H = PLOT_TOP + PLOT_H + XAXIS_H;

// ---------- helpers ----------
const fromLevels = (widths: number[]): Pt[] => widths.map((w, i) => [violinLevels[i], w] as Pt);

function violinRows(center: number, profile: Pt[]) {
  const asc = [...profile].sort((a, b) => a[0] - b[0]);
  const right = asc.map(([y, w]) => ({ x: center + w, y }));
  const left = [...asc].reverse().map(([y, w]) => ({ x: center - w, y }));
  return [...right, ...left];
}

function smoothSegment(pts: { x: number; y: number }[]) {
  let d = '';
  for (let i = 0; i < pts.length - 1; i++) {
    const p0 = pts[Math.max(i - 1, 0)];
    const p1 = pts[i];
    const p2 = pts[i + 1];
    const p3 = pts[Math.min(i + 2, pts.length - 1)];
    const c1x = p1.x + (p2.x - p0.x) / 6;
    const c1y = p1.y + (p2.y - p0.y) / 6;
    const c2x = p2.x - (p3.x - p1.x) / 6;
    const c2y = p2.y - (p3.y - p1.y) / 6;
    d += ` C${c1x},${c1y} ${c2x},${c2y} ${p2.x},${p2.y}`;
  }
  return d;
}

const violinOutline = (color: string) => (props: any) => {
  const pts = (props.points || []).filter((p: any) => p && p.x != null && p.y != null);
  if (pts.length < 4) return <g />;
  const n = Math.floor(pts.length / 2);
  const right = pts.slice(0, n);
  const left = pts.slice(n);
  const d = `M${right[0].x},${right[0].y}` + smoothSegment(right) + ` L${left[0].x},${left[0].y}` + smoothSegment(left) + ' Z';
  return <path d={d} fill="#FFFFFF" stroke={color} strokeWidth={1.1} strokeLinejoin="round" />;
};

const noShape = () => <g />;
const grayDot = (p: any) => <circle cx={p.cx} cy={p.cy} r={2.3} fill={POINT_COLOR} />;
const meanDot = (color: string) => (p: any) => <circle cx={p.cx} cy={p.cy} r={4.6} fill={color} />;
const pText = (label: string) => (p: any) => (
  <text x={p.cx} y={p.cy - 2.8} textAnchor="middle" fontSize={10} fontFamily={FONT} fill="#1A1A1A">{label}</text>
);

interface PanelProps {
  index: number;
  groupsPts: Pt[][];
  violins: Pt[][];
  means: number[];
  lows: number[];
  highs: number[];
  labelValues: number[];
  labelText: string[][];
}

function Panel({ index, groupsPts, violins, means, lows, highs, labelValues, labelText }: PanelProps) {
  const chartLeft = chartLefts[index];
  const chartTop = chartTops[index];
  const yAxisW = plotLefts[index] - chartLeft;
  const plotW = plotRights[index] - plotLefts[index];
  const W = Math.ceil(plotRights[index] - chartLeft + 2);
  const marginRight = W - yAxisW - plotW;
  const plotBottom = PLOT_TOP + PLOT_H;
  const title = panelTitles[index];

  const yTick = (props: any) => {
    const { y, payload } = props;
    const v = payload.value;
    const isInt = scaleTicks.includes(v);
    const li = labelValues.indexOf(v);
    const lines = li >= 0 ? labelText[li] : [];
    return (
      <g>
        {isInt && <line x1={yAxisW - 3.5} x2={yAxisW} y1={y} y2={y} stroke="#333333" strokeWidth={1} />}
        {lines.length === 1 && (
          <text x={yAxisW - 5} y={y + 6.3} textAnchor="end" fontSize={16.5} fontFamily={FONT} fill="#111111">{lines[0]}</text>
        )}
        {lines.length === 2 && (
          <text x={yAxisW - 5} y={y - 2.4} textAnchor="end" fontSize={16.5} fontFamily={FONT} fill="#111111">
            <tspan x={yAxisW - 5} y={y - 2.4}>{lines[0]}</tspan>
            <tspan x={yAxisW - 5} y={y + 15.2}>{lines[1]}</tspan>
          </text>
        )}
      </g>
    );
  };

  const xTick = (props: any) => {
    const { x, payload } = props;
    const lines = categoryLabels[categoryPositions.indexOf(payload.value)] || [];
    return (
      <g>
        <line x1={x} x2={x} y1={plotBottom} y2={plotBottom + 3.5} stroke="#333333" strokeWidth={1} />
        <text x={x} textAnchor="middle" fontSize={16.5} fontFamily={FONT} fill="#111111">
          <tspan x={x} y={plotBottom + 17.8}>{lines[0]}</tspan>
          <tspan x={x} y={plotBottom + 35.4}>{lines[1]}</tspan>
        </text>
      </g>
    );
  };

  const lowerBracket = [
    { x: categoryPositions[0], y: bracketEnd },
    { x: categoryPositions[0], y: bracketLower },
    { x: categoryPositions[1], y: bracketLower },
    { x: categoryPositions[1], y: bracketEnd },
  ];
  const upperBracket = [
    { x: (categoryPositions[0] + categoryPositions[1]) / 2, y: bracketLower },
    { x: (categoryPositions[0] + categoryPositions[1]) / 2, y: bracketUpper },
    { x: categoryPositions[2], y: bracketUpper },
    { x: categoryPositions[2], y: bracketEnd },
  ];
  const pLabelPos = [{ x: ((categoryPositions[0] + categoryPositions[1]) / 2 + categoryPositions[2]) / 2, y: bracketUpper }];

  return (
    <div style={{ position: 'absolute', left: chartLeft, top: chartTop, width: W, height: CHART_H }}>
      <ComposedChart width={W} height={CHART_H} margin={{ top: PLOT_TOP, right: marginRight, bottom: 0, left: 0 }}>
        <CartesianGrid fill="#EBEBEB" stroke="#FFFFFF" strokeWidth={1} />
        <XAxis
          type="number"
          dataKey="x"
          domain={[0.4, 3.6]}
          ticks={categoryPositions}
          allowDataOverflow
          axisLine={false}
          tickLine={false}
          interval={0}
          height={XAXIS_H}
          tick={xTick}
        />
        <YAxis
          type="number"
          dataKey="y"
          domain={[0.12, 8.58]}
          ticks={gridValues}
          allowDataOverflow
          axisLine={false}
          tickLine={false}
          interval={0}
          width={yAxisW}
          tick={yTick}
        />
        {violins.map((prof, g) => (
          <Scatter
            key={`v${g}`}
            data={violinRows(categoryPositions[g], prof)}
            shape={noShape}
            line={violinOutline(GROUP_COLORS[g])}
            lineType="joint"
            isAnimationActive={false}
          />
        ))}
        {groupsPts.map((pts, g) => (
          <Scatter
            key={`p${g}`}
            data={pts.map(([dx, y]) => ({ x: categoryPositions[g] + dx, y }))}
            shape={grayDot}
            isAnimationActive={false}
          />
        ))}
        {means.map((m, g) => (
          <Scatter
            key={`e${g}`}
            data={[{ x: categoryPositions[g], y: lows[g] }, { x: categoryPositions[g], y: highs[g] }]}
            shape={noShape}
            line={{ stroke: GROUP_COLORS[g], strokeWidth: 1.8, strokeOpacity: 0.8 }}
            lineType="joint"
            isAnimationActive={false}
          />
        ))}
        {means.map((m, g) => (
          <Scatter
            key={`m${g}`}
            data={[{ x: categoryPositions[g], y: m }]}
            shape={meanDot(GROUP_COLORS[g])}
            isAnimationActive={false}
          />
        ))}
        <Scatter data={lowerBracket} shape={noShape} line={{ stroke: '#222222', strokeWidth: 1.1 }} lineType="joint" isAnimationActive={false} />
        <Scatter data={upperBracket} shape={noShape} line={{ stroke: '#222222', strokeWidth: 1.1 }} lineType="joint" isAnimationActive={false} />
        <Scatter data={pLabelPos} shape={pText(pLabels[index])} isAnimationActive={false} />
      </ComposedChart>
      <div
        style={{
          position: 'absolute',
          left: yAxisW,
          width: plotW,
          top: 9,
          textAlign: 'center',
          fontSize: 20,
          lineHeight: '20px',
          fontFamily: FONT,
          color: '#000000',
          whiteSpace: 'nowrap',
        }}
      >
        {title[0]}
        <br />
        {title[1]}
      </div>
    </div>
  );
}

export default function App() {
  return (
    <div style={{ position: 'absolute', left: 0, top: 0, width: 1322, height: 924, overflow: 'hidden', background: '#FFFFFF' }}>
      <Panel index={0} groupsPts={[p1Connected, p1Disconnected, p1Control]} violins={[fromLevels(v1Connected), fromLevels(v1Disconnected), fromLevels(v1Control)]} means={p1Means} lows={p1Low} highs={p1High} labelValues={envyLabelValues} labelText={envyLabelText} />
      <Panel index={1} groupsPts={[p2Connected, p2Disconnected, p2Control]} violins={[fromLevels(v2Connected), fromLevels(v2Disconnected), fromLevels(v2Control)]} means={p2Means} lows={p2Low} highs={p2High} labelValues={envyLabelValues} labelText={envyLabelText} />
      <Panel index={2} groupsPts={[p3Connected, p3Disconnected, p3Control]} violins={[fromLevels(v3Connected), fromLevels(v3Disconnected), fromLevels(v3Control)]} means={p3Means} lows={p3Low} highs={p3High} labelValues={envyLabelValues} labelText={envyLabelText} />
      <Panel index={3} groupsPts={[p4Connected, p4Disconnected, p4Control]} violins={[fromLevels(v4Connected), fromLevels(v4Disconnected), fromLevels(v4Control)]} means={p4Means} lows={p4Low} highs={p4High} labelValues={agreeLabelValues} labelText={agreeLabelText} />
      <Panel index={4} groupsPts={[p5Connected, p5Disconnected, p5Control]} violins={[v5Connected, v5Disconnected, fromLevels(v5Control)]} means={p5Means} lows={p5Low} highs={p5High} labelValues={satisfiedLabelValues} labelText={satisfiedLabelText} />
      <Panel index={5} groupsPts={[p6Connected, p6Disconnected, p6Control]} violins={[fromLevels(v6Connected), fromLevels(v6Disconnected), fromLevels(v6Control)]} means={p6Means} lows={p6Low} highs={p6High} labelValues={satisfiedLabelValues} labelText={satisfiedLabelText} />
    </div>
  );
}
